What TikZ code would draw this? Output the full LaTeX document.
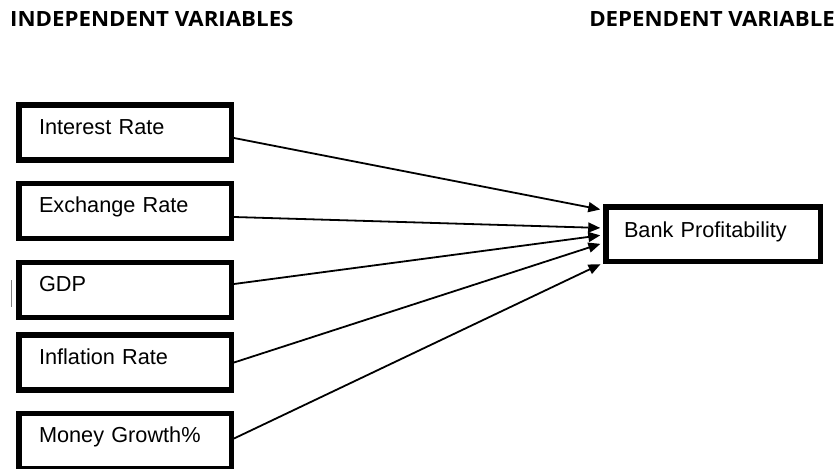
\documentclass[tikz,border=0pt]{standalone}
\usepackage{fontspec}
\setmainfont{Liberation Sans}
\newfontfamily\headfont[FakeStretch=1.06]{Open Sans}
\usetikzlibrary{arrows.meta}

\begin{document}
\begin{tikzpicture}[x=1pt, y=-1pt,
  varbox/.style={draw, rectangle, line width=5.5pt, text width=172pt, align=left,
    inner xsep=20.25pt, inner ysep=0pt, minimum height=55pt,
    text height=15pt, text depth=12pt, font=\fontsize{21.7}{24}\selectfont},
  conn/.style={-{Triangle[length=12pt,width=10pt]}, line width=1.8pt, shorten >=2.75pt},
  heading/.style={anchor=base west, inner sep=0pt, font=\headfont\bfseries\fontsize{21}{24}\selectfont}]
\clip (0,0) rectangle (837,468);

% Headings
\node[heading] (hind) at (10,27) {INDEPENDENT VARIABLES};
\node[heading, anchor=base east] (hdep) at (835,27) {DEPENDENT VARIABLE};

% Independent variables
\node[varbox] (ir) at (125,132.5) {Interest Rate};
\node[varbox] (er) at (125,211) {Exchange Rate};
\node[varbox] (gdp) at (125,290) {GDP};
\node[varbox] (inf) at (125,362.5) {Inflation Rate};
\node[varbox] (mg) at (125,441) {Money Growth\%};

% Dependent variable
\node[varbox, text width=178pt, inner xsep=18.25pt, minimum height=54.5pt, text depth=9pt] (bank) at (713,234) {Bank Profitability};

% Arrows
\draw[conn] ([yshift=-5.5pt]ir.east) -- ([yshift=24pt]bank.west);
\draw[conn] ([yshift=-6pt]er.east) -- ([yshift=6pt]bank.west);
\draw[conn] ([yshift=6pt]gdp.east) -- ([yshift=-1pt]bank.west);
\draw[conn] (inf.east) -- ([yshift=-9pt]bank.west);
\draw[conn] ([yshift=2.5pt]mg.east) -- ([yshift=-29pt]bank.west);

% cursor mark
\draw[gray, line width=1.2pt] (11.7,280) -- (11.7,307);
\end{tikzpicture}
\end{document}
